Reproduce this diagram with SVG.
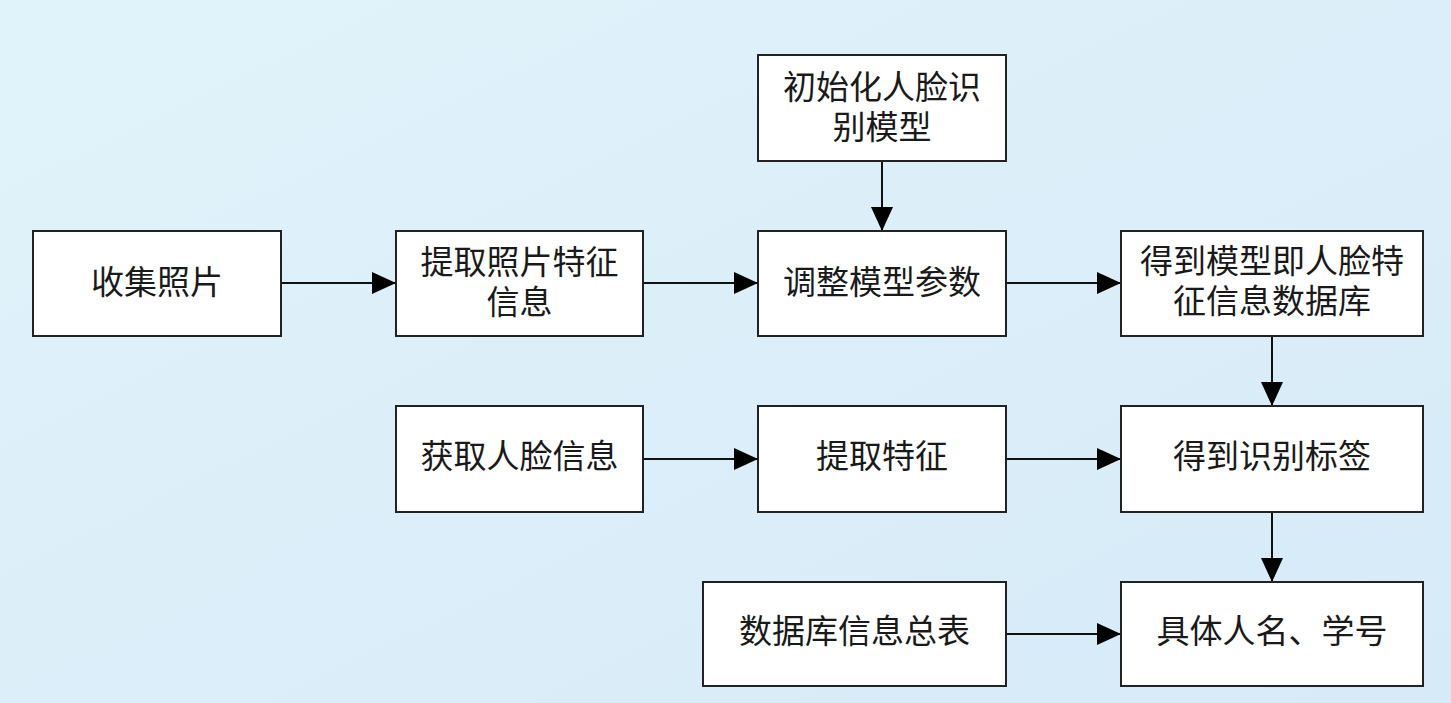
<svg xmlns="http://www.w3.org/2000/svg" width="1451" height="703" viewBox="0 0 1451 703">
<defs>
<linearGradient id="bg" x1="0" y1="0" x2="1" y2="1">
<stop offset="0" stop-color="#e1f3fa"/>
<stop offset="1" stop-color="#d6eaf8"/>
</linearGradient>
<marker id="ah" markerWidth="24" markerHeight="24" refX="24" refY="12" orient="auto" markerUnits="userSpaceOnUse">
<path d="M0,1 L24,12 L0,23 Z" fill="#000"/>
</marker>
<style>
.box{fill:#fff;stroke:#222;stroke-width:2}
.t{font-family:"Noto Sans CJK SC","Noto Sans",sans-serif;font-size:33px;fill:#1a1a1a;text-anchor:middle}
.c{stroke:#111;stroke-width:2;fill:none;marker-end:url(#ah)}
</style>
</defs>
<rect x="0" y="0" width="1451" height="703" fill="url(#bg)"/>
<g id="connectors">
<line class="c" x1="281" y1="283" x2="396" y2="283"/>
<line class="c" x1="643" y1="283" x2="758" y2="283"/>
<line class="c" x1="1006" y1="283" x2="1121" y2="283"/>
<line class="c" x1="882" y1="161" x2="882" y2="231"/>
<line class="c" x1="1272" y1="336" x2="1272" y2="406"/>
<line class="c" x1="643" y1="459" x2="758" y2="459"/>
<line class="c" x1="1006" y1="459" x2="1121" y2="459"/>
<line class="c" x1="1272" y1="512" x2="1272" y2="582"/>
<line class="c" x1="1006" y1="634" x2="1121" y2="634"/>
</g>
<g id="n_collect"><rect class="box" x="33" y="231" width="248" height="105"/><text class="t" x="157" y="294">收集照片</text></g>
<g id="n_extract_photo"><rect class="box" x="396" y="231" width="247" height="105"/><text class="t" x="519.5" y="274">提取照片特征<tspan x="519.5" dy="40">信息</tspan></text></g>
<g id="n_init"><rect class="box" x="758" y="55" width="248" height="106"/><text class="t" x="882" y="99">初始化人脸识<tspan x="882" dy="40">别模型</tspan></text></g>
<g id="n_adjust"><rect class="box" x="758" y="231" width="248" height="105"/><text class="t" x="882" y="294">调整模型参数</text></g>
<g id="n_db"><rect class="box" x="1121" y="231" width="302" height="105"/><text class="t" x="1272" y="273">得到模型即人脸特<tspan x="1272" dy="40">征信息数据库</tspan></text></g>
<g id="n_getface"><rect class="box" x="396" y="406" width="247" height="106"/><text class="t" x="519.5" y="468">获取人脸信息</text></g>
<g id="n_feature"><rect class="box" x="758" y="406" width="248" height="106"/><text class="t" x="882" y="468">提取特征</text></g>
<g id="n_label"><rect class="box" x="1121" y="406" width="302" height="106"/><text class="t" x="1272" y="468">得到识别标签</text></g>
<g id="n_table"><rect class="box" x="703" y="582" width="303" height="104"/><text class="t" x="854.5" y="643">数据库信息总表</text></g>
<g id="n_name"><rect class="box" x="1121" y="582" width="302" height="104"/><text class="t" x="1272" y="643">具体人名、学号</text></g>
</svg>
